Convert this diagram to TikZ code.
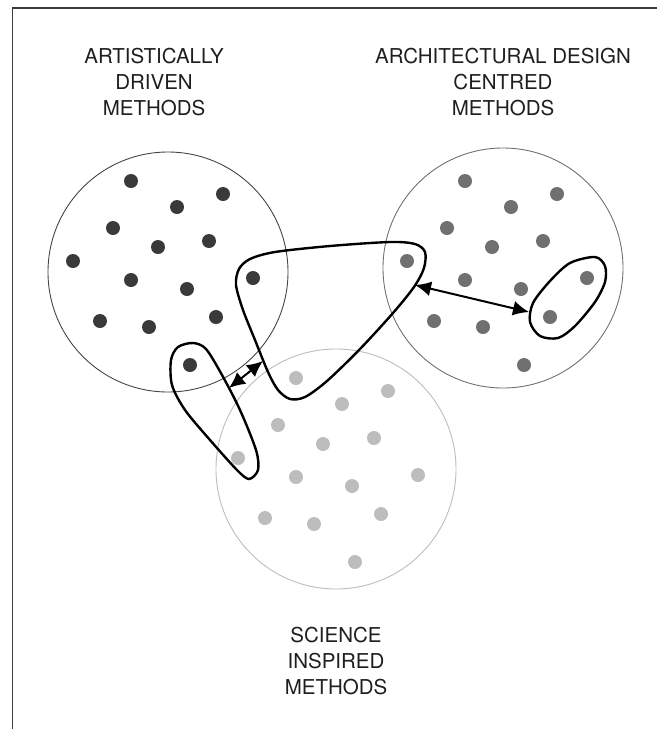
\documentclass[tikz,border=0pt]{standalone}
\usepackage{fontspec}
\setmainfont{TeX Gyre Heros}
\usepackage{xcolor}
\definecolor{colorArtistic}{HTML}{3A3A3A}
\definecolor{colorCentred}{HTML}{707070}
\definecolor{colorScience}{HTML}{BDBDBD}
\definecolor{colorFrame}{HTML}{3C3C3C}
\usetikzlibrary{arrows.meta}
\tikzset{
  dot/.style={circle, fill=#1, inner sep=0pt, minimum size=14pt},
  cluster/.style={circle, draw=#1, line width=0.9pt, inner sep=0pt, minimum size=240pt},
  hull/.style={black, line width=2.4pt},
  grouptext/.style={font=\fontsize{20.5}{26}\selectfont, align=center, text=black!88},
  link/.style={<->, >={Latex[length=16pt,width=15pt]}, line width=2pt}
}

\begin{document}
\begin{tikzpicture}[x=1pt, y=-1pt]
\useasboundingbox (0,0) rectangle (657,729);
\draw[colorFrame, line width=1.5pt] (12.5,729) -- (12.5,8) -- (657,8);

% the three groups of methods
\node[cluster=colorArtistic!95] (artistic) at (168,272) {};
\node[cluster=colorCentred] (centred) at (503,268) {};
\node[cluster=colorScience] (science) at (336,469) {};

% same scatter of methods in each group, shifted
\foreach \x/\y [count=\i] in {131/181, 223/194, 177/207, 113/228, 209/241, 158/247, 73/261,
    253/278, 131/280, 187/289, 100/321, 216/317, 149/327, 190/365} {
  \node[dot=colorArtistic] (a\i) at (\x,\y) {};
  \node[dot=colorCentred] (c\i) at (\x+334,\y) {};
  \node[dot=colorScience] (s\i) at (\x+165,\y+197) {};
}

\node[grouptext] (artTxt) at (154,82.5) {ARTISTICALLY\\DRIVEN\\METHODS};
\node[grouptext] (cenTxt) at (503,82.5) {ARCHITECTURAL DESIGN\\CENTRED\\METHODS};
\node[grouptext] (sciTxt) at (336,661) {SCIENCE\\INSPIRED\\METHODS};

% hybrid approaches
\draw[hull] plot[smooth cycle, tension=0.5] coordinates {(236,285) (239,269) (250,259) (275,252)
  (330,246) (390,242) (415,244) (425,252) (424,268) (414,287) (393,313) (360,349) (327,381)
  (305,397) (290,399) (278,390) (268,372) (255,340) (243,310)};
\draw[hull] plot[smooth cycle, tension=0.5] coordinates {(193,343) (178,347) (171,360) (172,385)
  (185,410) (210,440) (237,470) (249,479) (258,470) (256,450) (240,410) (222,375) (206,349)};
\draw[hull] plot[smooth cycle, tension=0.5] coordinates {(595,257) (605,266) (605,282) (595,302)
  (575,326) (558,338) (540,336) (530,322) (533,303) (550,281) (570,263)};

\coordinate (bigW) at (263,361);
\coordinate (pairE) at (229,388);
\coordinate (bigE) at (415,285);
\coordinate (duoW) at (529,312);
\draw[link] (pairE) -- (bigW);
\draw[link] (bigE) -- (duoW);
\end{tikzpicture}
\end{document}
